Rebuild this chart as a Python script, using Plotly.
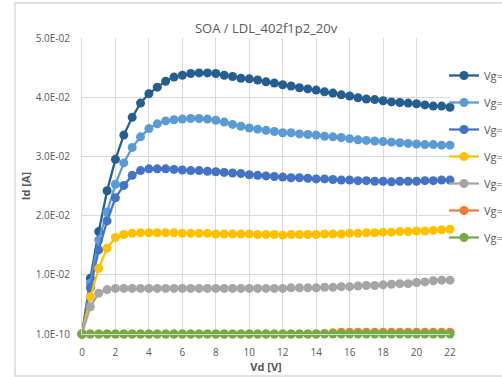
import plotly.graph_objects as go

vd = [0, 0.5, 1, 1.5, 2, 2.5, 3, 3.5, 4, 4.5, 5, 5.5, 6, 6.5, 7, 7.5, 8, 8.5, 9, 9.5,
      10, 10.5, 11, 11.5, 12, 12.5, 13, 13.5, 14, 14.5, 15, 15.5, 16, 16.5, 17, 17.5,
      18, 18.5, 19, 19.5, 20, 20.5, 21, 21.5, 22]

vg6 = [0, 0.0094, 0.0173, 0.0242, 0.0295, 0.0336, 0.0366, 0.0390, 0.0406, 0.0417,
       0.0427, 0.0434, 0.0437, 0.0440, 0.0441, 0.0441, 0.0440, 0.0437, 0.0435, 0.0432,
       0.0431, 0.0429, 0.0426, 0.0424, 0.0421, 0.0419, 0.0416, 0.0414, 0.0412, 0.0409,
       0.0407, 0.0404, 0.0402, 0.0399, 0.0397, 0.0396, 0.0394, 0.0392, 0.0391, 0.0390,
       0.0389, 0.0387, 0.0385, 0.0385, 0.0383]
vg5 = [0, 0.0086, 0.0159, 0.0206, 0.0253, 0.0289, 0.0315, 0.0333, 0.0347, 0.0355,
       0.0360, 0.0362, 0.0363, 0.0364, 0.0364, 0.0363, 0.0361, 0.0358, 0.0354, 0.0351,
       0.0348, 0.0346, 0.0344, 0.0342, 0.0340, 0.0340, 0.0338, 0.0337, 0.0336, 0.0334,
       0.0333, 0.0332, 0.0330, 0.0328, 0.0327, 0.0326, 0.0325, 0.0324, 0.0323, 0.0322,
       0.0321, 0.0320, 0.0320, 0.0319, 0.0319]
vg4 = [0, 0.0078, 0.0142, 0.0191, 0.0230, 0.0251, 0.0268, 0.0276, 0.0279, 0.0279,
       0.0279, 0.0278, 0.0277, 0.0276, 0.0276, 0.0275, 0.0274, 0.0273, 0.0272, 0.0271,
       0.0269, 0.0268, 0.0267, 0.0266, 0.0265, 0.0264, 0.0264, 0.0263, 0.0262, 0.0262,
       0.0261, 0.0260, 0.0260, 0.0259, 0.0259, 0.0258, 0.0258, 0.0257, 0.0258, 0.0258,
       0.0258, 0.0259, 0.0259, 0.0260, 0.0260]
vg3 = [0, 0.0063, 0.0111, 0.0145, 0.0163, 0.0168, 0.0170, 0.0171, 0.0171, 0.0171,
       0.0171, 0.0171, 0.0170, 0.0170, 0.0170, 0.0170, 0.0169, 0.0169, 0.0169, 0.0169,
       0.0169, 0.0168, 0.0168, 0.0168, 0.0167, 0.0168, 0.0168, 0.0168, 0.0168, 0.0169,
       0.0169, 0.0169, 0.0170, 0.0170, 0.0171, 0.0171, 0.0172, 0.0172, 0.0173, 0.0173,
       0.0174, 0.0174, 0.0175, 0.0176, 0.0177]
vg2 = [0, 0.0046, 0.0069, 0.0075, 0.0077, 0.0077, 0.0077, 0.0077, 0.0077, 0.0077,
       0.0077, 0.0077, 0.0077, 0.0077, 0.0077, 0.0077, 0.0077, 0.0077, 0.0077, 0.0077,
       0.0077, 0.0077, 0.0077, 0.0077, 0.0077, 0.0078, 0.0078, 0.0078, 0.0078, 0.0079,
       0.0079, 0.0080, 0.0080, 0.0081, 0.0082, 0.0082, 0.0083, 0.0084, 0.0085, 0.0085,
       0.0087, 0.0088, 0.0090, 0.0091, 0.0091]
vg1 = [0, 0, 0, 0, 0, 0, 0, 0, 0, 0,
       0, 0, 0, 0, 0, 0, 0, 0, 0, 0,
       0, 0, 0, 0, 0, 0, 0, 0, 0, 0.0001,
       0.0002, 0.0003, 0.0003, 0.0003, 0.0003, 0.0003, 0.0003, 0.0003, 0.0003, 0.0003,
       0.0003, 0.0003, 0.0003, 0.0003, 0.0003]
vg0 = [0] * 45

series_names = ["Vg=6V", "Vg=5V", "Vg=4V", "Vg=3V", "Vg=2V", "Vg=1V", "Vg=0V"]
series_data = [vg6, vg5, vg4, vg3, vg2, vg1, vg0]
colors = ["#255E91", "#5B9BD5", "#4472C4", "#FFC000", "#A5A5A5", "#ED7D31", "#70AD47"]

y_tickvals = [0, 0.01, 0.02, 0.03, 0.04, 0.05]
y_ticktext = ["1.0E-10", "1.0E-02", "2.0E-02", "3.0E-02", "4.0E-02", "5.0E-02"]
x_tickvals = [0, 2, 4, 6, 8, 10, 12, 14, 16, 18, 20, 22]

FONT = "Liberation Sans Narrow, Open Sans, Liberation Sans, sans-serif"
TXT = "#595959"

fig = go.Figure()
for name, ys, c in zip(series_names, series_data, colors):
    fig.add_trace(go.Scatter(
        x=vd, y=ys, name=name, mode="lines+markers", legendgroup=name,
        line=dict(color=c, width=2.25), marker=dict(color=c, size=9),
        cliponaxis=False,
    ))

fig.update_layout(
    width=502, height=377,
    margin=dict(l=82, r=52, t=38, b=43, autoexpand=False),
    paper_bgcolor="white", plot_bgcolor="white",
    font=dict(family=FONT, color=TXT, size=10),
    title=dict(text="SOA / LDL_402f1p2_20v", x=0.53, xanchor="center",
               y=1 - 28 / 377, yanchor="middle",
               font=dict(size=13, color=TXT, family=FONT)),
    showlegend=True,
    legend=dict(x=(444 - 82) / 368, xanchor="left", y=1 - 23 / 296, yanchor="top",
                traceorder="grouped", tracegroupgap=8,
                font=dict(size=11, color=TXT, family=FONT),
                bgcolor="rgba(0,0,0,0)"),
    xaxis=dict(range=[0, 22], tickvals=x_tickvals, showgrid=True,
               gridcolor="#D9D9D9", gridwidth=1, zeroline=False,
               showline=True, linecolor="#D9D9D9", ticks="",
               ticklabelstandoff=9,
               tickfont=dict(size=10, color=TXT),
               title=dict(text="<b>Vd [V]</b>", standoff=3,
                          font=dict(size=11, color=TXT))),
    yaxis=dict(range=[0, 0.05], tickvals=y_tickvals, ticktext=y_ticktext,
               showgrid=True, gridcolor="#D9D9D9", gridwidth=1, zeroline=False,
               showline=True, linecolor="#D9D9D9", ticks="",
               ticklabelstandoff=9,
               tickfont=dict(size=10, color=TXT),
               title=dict(text="<b>Id [A]</b>", standoff=2,
                          font=dict(size=11, color=TXT))),
)

fig.add_shape(type="rect", xref="paper", yref="paper",
              x0=(15 - 82) / 368, x1=1.3, y0=(334 - 376) / 296, y1=(334 - 3) / 296,
              line=dict(color="#D9D9D9", width=1.5), fillcolor="rgba(0,0,0,0)",
              layer="below")

fig.write_html("out.html")
